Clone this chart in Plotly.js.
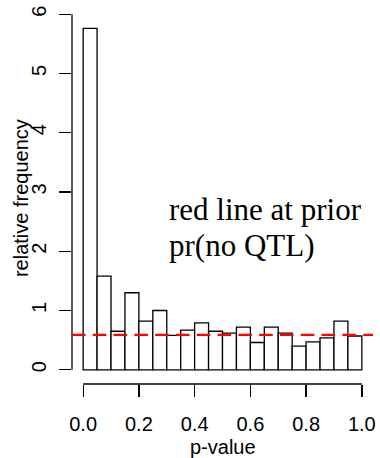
<!DOCTYPE html>
<html>
<head>
<meta charset="utf-8">
<script src="https://cdn.plot.ly/plotly-3.0.1.min.js"></script>
<style>
  html, body { margin: 0; padding: 0; background: #fff; }
  #chart { width: 380px; height: 458px; }
</style>
</head>
<body>
<div id="chart"></div>
<script>
// Histogram of p-values: 20 bins of width 0.05 on [0, 1]
const binStarts = [0.00, 0.05, 0.10, 0.15, 0.20, 0.25, 0.30, 0.35, 0.40, 0.45,
                   0.50, 0.55, 0.60, 0.65, 0.70, 0.75, 0.80, 0.85, 0.90, 0.95];
const binWidth = 0.05;
const relFreq = [5.76, 1.58, 0.65, 1.30, 0.82, 1.00, 0.58, 0.67, 0.79, 0.65,
                 0.62, 0.72, 0.46, 0.72, 0.62, 0.40, 0.47, 0.54, 0.82, 0.57];
const priorNoQTL = 0.59;
const xTickVals = [0, 0.2, 0.4, 0.6, 0.8, 1.0];
const xTickText = ["0.0", "0.2", "0.4", "0.6", "0.8", "1.0"];
const yTickVals = [0, 1, 2, 3, 4, 5, 6];
const yTickText = ["0", "1", "2", "3", "4", "5", "6"];
const xTitle = "p-value";
const yTitle = "relative frequency";
const noteLines = ["red line at prior", "pr(no QTL)"];

const sans = '"Liberation Sans", Arial, Helvetica, sans-serif';
const serif = '"Liberation Serif", "Times New Roman", serif';
const lw = 1.3;
const fs = 20;

const trace = {
  type: 'bar',
  x: binStarts.map(b => b + binWidth / 2),
  y: relFreq,
  width: binStarts.map(() => binWidth),
  marker: { color: '#ffffff', line: { color: '#000000', width: lw } },
  hoverinfo: 'x+y',
  showlegend: false
};

const layout = {
  width: 380,
  height: 458,
  margin: { l: 72, r: 7, t: 0, b: 74, pad: 0 },
  paper_bgcolor: '#ffffff',
  plot_bgcolor: '#ffffff',
  font: { family: sans, size: fs, color: '#000000' },
  bargap: 0,
  xaxis: {
    range: [-0.04, 1.04],
    tickmode: 'array',
    tickvals: xTickVals,
    ticktext: xTickText,
    ticks: 'outside',
    ticklen: 12,
    tickwidth: lw,
    tickcolor: '#000000',
    ticklabelstandoff: 10,
    showgrid: false,
    zeroline: false,
    showline: false,
    automargin: false
  },
  yaxis: {
    range: [-0.24, 6.24],
    tickmode: 'array',
    tickvals: yTickVals,
    ticktext: yTickText,
    tickangle: -90,
    ticks: 'outside',
    ticklen: 12,
    tickwidth: lw,
    tickcolor: '#000000',
    ticklabelstandoff: 5,
    showgrid: false,
    zeroline: false,
    showline: false,
    automargin: false
  },
  shapes: [
    // y axis spine (from first to last tick, R style)
    { type: 'line', xref: 'paper', yref: 'y', x0: 0, x1: 0,
      y0: yTickVals[0], y1: yTickVals[yTickVals.length - 1],
      line: { color: '#000000', width: lw } },
    // x axis spine
    { type: 'line', xref: 'x', yref: 'paper', y0: 0, y1: 0,
      x0: xTickVals[0], x1: xTickVals[xTickVals.length - 1],
      line: { color: '#000000', width: lw } },
    // prior line
    { type: 'line', xref: 'paper', yref: 'y', x0: 0, x1: 1,
      y0: priorNoQTL, y1: priorNoQTL, layer: 'above',
      line: { color: '#ff0000', width: 2.3, dash: '13.5px,7.3px' } }
  ],
  annotations: [
    { text: xTitle, xref: 'x', yref: 'paper', x: 0.5, y: -0.164,
      xanchor: 'center', yanchor: 'middle', showarrow: false,
      font: { family: sans, size: fs, color: '#000000' } },
    { text: yTitle, xref: 'paper', yref: 'y', x: -0.169, y: 2.9, textangle: -90,
      xanchor: 'center', yanchor: 'middle', showarrow: false,
      font: { family: sans, size: fs, color: '#000000' } },
    { text: noteLines[0], xref: 'x', yref: 'y', x: 0.3, y: 2.71,
      xanchor: 'left', yanchor: 'middle', showarrow: false,
      font: { family: serif, size: 31, color: '#000000' } },
    { text: noteLines[1], xref: 'x', yref: 'y', x: 0.3, y: 2.10,
      xanchor: 'left', yanchor: 'middle', showarrow: false,
      font: { family: serif, size: 31, color: '#000000' } }
  ]
};

Plotly.newPlot('chart', [trace], layout, { displayModeBar: false, staticPlot: true });
</script>
</body>
</html>
